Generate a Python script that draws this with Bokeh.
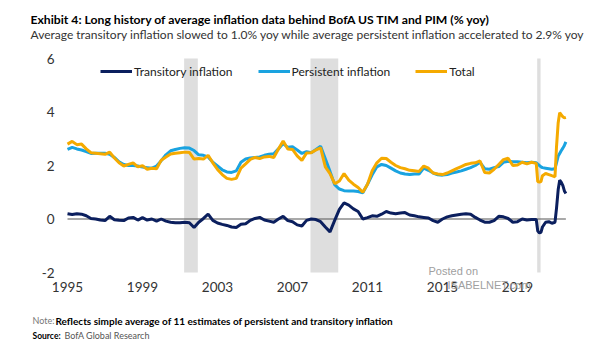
from bokeh.plotting import figure
from bokeh.models import Label, Legend, LegendItem, FixedTicker, ColumnDataSource
from bokeh.embed import file_html
from bokeh.resources import INLINE

# ---------------- data ----------------
years = [
    1995.00, 1995.25, 1995.50, 1995.75, 1996.00, 1996.25, 1996.50, 1996.75,
    1997.00, 1997.25, 1997.50, 1997.75, 1998.00, 1998.25, 1998.50, 1998.75,
    1999.00, 1999.25, 1999.50, 1999.75, 2000.00, 2000.25, 2000.50, 2000.75,
    2001.00, 2001.25, 2001.50, 2001.75, 2002.00, 2002.25, 2002.50, 2002.75,
    2003.00, 2003.25, 2003.50, 2003.75, 2004.00, 2004.25, 2004.50, 2004.75,
    2005.00, 2005.25, 2005.50, 2005.75, 2006.00, 2006.25, 2006.50, 2006.75,
    2007.00, 2007.25, 2007.50, 2007.75, 2008.00, 2008.25, 2008.50, 2008.75,
    2009.00, 2009.25, 2009.50, 2009.75, 2010.00, 2010.25, 2010.50, 2010.75,
    2011.00, 2011.25, 2011.50, 2011.75, 2012.00, 2012.25, 2012.50, 2012.75,
    2013.00, 2013.25, 2013.50, 2013.75, 2014.00, 2014.25, 2014.50, 2014.75,
    2015.00, 2015.25, 2015.50, 2015.75, 2016.00, 2016.25, 2016.50, 2016.75,
    2017.00, 2017.25, 2017.50, 2017.75, 2018.00, 2018.25, 2018.50, 2018.75,
    2019.00, 2019.25, 2019.50, 2019.75, 2020.00, 2020.08, 2020.17, 2020.25,
    2020.33, 2020.50, 2020.67, 2020.83, 2021.00, 2021.08, 2021.17, 2021.25,
    2021.33, 2021.42, 2021.50, 2021.58,
]

transitory = [
    0.20, 0.17, 0.20, 0.18, 0.12, 0.02, 0.00, -0.04,
    -0.06, 0.10, -0.03, -0.05, -0.06, 0.04, 0.06, -0.04,
    0.05, -0.04, 0.00, -0.08, 0.00, -0.08, -0.12, -0.14,
    -0.14, -0.12, -0.14, -0.32, -0.12, 0.02, 0.18, -0.05,
    -0.15, -0.20, -0.24, -0.30, -0.32, -0.20, -0.18, -0.05,
    0.02, 0.06, -0.04, -0.08, -0.12, 0.00, 0.10, -0.06,
    -0.10, -0.22, -0.26, -0.05, 0.00, -0.02, -0.10, -0.30,
    -0.48, -0.05, 0.36, 0.60, 0.52, 0.38, 0.28, 0.00,
    0.05, 0.12, 0.10, 0.18, 0.28, 0.22, 0.20, 0.22,
    0.24, 0.15, 0.12, 0.08, 0.06, 0.04, -0.06, -0.12,
    0.00, 0.08, 0.12, 0.15, 0.18, 0.20, 0.18, 0.06,
    -0.04, -0.12, -0.12, -0.06, 0.10, 0.08, 0.02, -0.12,
    -0.10, 0.00, -0.04, -0.02, -0.02, -0.45, -0.52, -0.50,
    -0.30, -0.12, -0.10, -0.16, -0.12, 0.40, 1.10, 1.45,
    1.38, 1.25, 1.05, 0.95,
]

persistent = [
    2.60, 2.68, 2.62, 2.58, 2.52, 2.45, 2.46, 2.46,
    2.46, 2.42, 2.30, 2.14, 2.04, 2.00, 2.00, 1.98,
    1.94, 1.92, 1.90, 1.98, 2.18, 2.40, 2.55, 2.60,
    2.64, 2.66, 2.65, 2.56, 2.40, 2.38, 2.32, 2.12,
    1.98, 1.84, 1.76, 1.74, 1.80, 2.12, 2.24, 2.28,
    2.30, 2.32, 2.38, 2.42, 2.44, 2.62, 2.82, 2.68,
    2.70, 2.58, 2.45, 2.52, 2.48, 2.60, 2.72, 2.25,
    1.78, 1.28, 1.12, 1.06, 1.05, 1.05, 1.03, 0.98,
    1.30, 1.65, 1.95, 2.04, 2.00, 1.90, 1.80, 1.72,
    1.68, 1.66, 1.68, 1.68, 1.90, 1.82, 1.72, 1.65,
    1.64, 1.66, 1.72, 1.76, 1.80, 1.86, 1.92, 2.00,
    2.12, 1.88, 1.86, 1.92, 1.96, 2.12, 2.16, 2.14,
    2.14, 2.12, 2.10, 2.12, 2.10, 2.05, 2.00, 1.95,
    1.92, 1.90, 1.88, 1.86, 1.88, 2.10, 2.35, 2.45,
    2.55, 2.65, 2.75, 2.88,
]

total = [
    2.80, 2.90, 2.78, 2.80, 2.62, 2.48, 2.46, 2.44,
    2.42, 2.50, 2.28, 2.10, 1.98, 2.04, 2.10, 1.95,
    1.99, 1.86, 1.90, 1.88, 2.20, 2.32, 2.43, 2.46,
    2.48, 2.50, 2.49, 2.24, 2.26, 2.24, 2.38, 2.10,
    1.85, 1.66, 1.52, 1.48, 1.52, 1.90, 2.06, 2.23,
    2.30, 2.26, 2.32, 2.34, 2.30, 2.62, 2.92, 2.62,
    2.60, 2.36, 2.19, 2.47, 2.48, 2.58, 2.66, 1.95,
    1.70, 1.32, 1.42, 1.70, 1.45, 1.30, 1.18, 1.00,
    1.30, 1.80, 2.10, 2.27, 2.26, 2.12, 2.00, 1.92,
    1.88, 1.82, 1.80, 1.78, 1.98, 1.90, 1.72, 1.68,
    1.66, 1.72, 1.80, 1.88, 1.96, 2.04, 2.08, 2.10,
    2.17, 1.74, 1.72, 1.86, 2.04, 2.22, 2.27, 2.00,
    2.02, 2.12, 2.06, 2.12, 2.08, 1.40, 1.38, 1.40,
    1.62, 1.70, 1.66, 1.62, 1.58, 2.70, 3.60, 3.97,
    3.90, 3.82, 3.78, 3.80,
]

recession_start = [2001.22, 2007.96, 2020.05]
recession_end = [2001.95, 2009.44, 2020.23]

x_ticks = [1995, 1999, 2003, 2007, 2011, 2015, 2019]
x_tick_labels = ["1995", "1999", "2003", "2007", "2011", "2015", "2019"]
y_ticks = [-2, 0, 2, 4, 6]
y_tick_labels = ["-2", "0", "2", "4", "6"]

series_names = ["Transitory inflation", "Persistent inflation", "Total"]

title_text = "Exhibit 4: Long history of average inflation data behind BofA US TIM and PIM (% yoy)"
subtitle_text = ("Average transitory inflation slowed to 1.0% yoy while average persistent "
                 "inflation accelerated to 2.9% yoy")
note_label = "Note:"
note_text = "Reflects simple average of 11 estimates of persistent and transitory inflation"
source_label = "Source:"
source_text = "BofA Global Research"
watermark_1 = "Posted on"
watermark_2 = "ISABELNET.com"

# ---------------- styling / layout ----------------
FONT = "Lato"
NAVY = "#0b1f5e"
BLUE = "#1aa3e0"
GOLD = "#f5aa00"
SHADE = "#dedede"

W, H = 605, 341
plot_left, plot_top, plot_bottom = 67, 58, 272     # pixel spots of 1995, y=6, y=-2
px_per_year = 18.75
px_per_unit = (plot_bottom - plot_top) / (y_ticks[-1] - y_ticks[0])
x0 = years[0] - plot_left / px_per_year
x1 = x0 + W / px_per_year
y0 = y_ticks[0] - (H - plot_bottom) / px_per_unit
y1 = y_ticks[-1] + plot_top / px_per_unit

p = figure(width=W, height=H, x_range=(x0, x1), y_range=(y0, y1),
           output_backend="svg", toolbar_location=None, title=None,
           min_border=0, min_border_left=0, min_border_right=0,
           min_border_top=0, min_border_bottom=0)
p.outline_line_color = None
p.grid.grid_line_color = None
p.background_fill_color = "white"
p.border_fill_color = "white"

# recession shading
p.quad(left=recession_start, right=recession_end,
       bottom=y_ticks[0], top=y_ticks[-1], fill_color=SHADE, line_color=None)

# zero line over the data span
p.line(x=[years[0], years[-1]], y=[0, 0], line_color="#555555", line_width=1.2)

src = ColumnDataSource(dict(x=years, t=transitory, p=persistent, tot=total))
r_t = p.line("x", "t", source=src, line_color=NAVY, line_width=3)
r_p = p.line("x", "p", source=src, line_color=BLUE, line_width=3)
r_tot = p.line("x", "tot", source=src, line_color=GOLD, line_width=3)

for ax in (p.xaxis[0], p.yaxis[0]):
    ax.axis_line_color = None
    ax.major_tick_line_color = None
    ax.minor_tick_line_color = None
    ax.major_tick_out = 0
    ax.major_tick_in = 0
    ax.minor_tick_out = 0
    ax.minor_tick_in = 0
    ax.major_label_text_font = FONT
    ax.major_label_text_font_size = "13.5px"
    ax.major_label_text_color = "#333333"

# tick labels sit inside the canvas-wide frame (negative standoff)
p.xaxis[0].ticker = FixedTicker(ticks=x_ticks)
p.xaxis[0].major_label_overrides = dict(zip(x_ticks, x_tick_labels))
p.xaxis[0].major_label_standoff = -(H - 281)
p.yaxis[0].ticker = FixedTicker(ticks=y_ticks)
p.yaxis[0].major_label_overrides = dict(zip(y_ticks, y_tick_labels))
p.yaxis[0].major_label_standoff = -54

legend = Legend(items=[LegendItem(label=series_names[0], renderers=[r_t]),
                       LegendItem(label=series_names[1], renderers=[r_p]),
                       LegendItem(label=series_names[2], renderers=[r_tot])],
                orientation="horizontal", location=(100, H - 61 - 20),
                glyph_width=32, glyph_height=20, label_standoff=2, spacing=25,
                padding=0, margin=0, label_text_font=FONT,
                label_text_font_size="12px", label_text_color="#222222",
                border_line_color=None, background_fill_alpha=0)
p.add_layout(legend)


def put(x, baseline, text, size, color="#000000", style="normal", font=FONT):
    # screen units: x from canvas left, y measured up from canvas bottom
    p.add_layout(Label(x=x, y=H - baseline, x_units="screen", y_units="screen",
                       text=text, text_font=font, text_font_size=size,
                       text_color=color, text_font_style=style,
                       text_baseline="alphabetic", text_align="left"))


put(30, 19, title_text, "12.2px", "#000000", "bold")
put(30, 34, subtitle_text, "12px", "#333333")
put(32, 320, note_label, "9px", "#777777")
put(55, 320, note_text, "10px", "#000000", "bold")
put(32, 335, source_label, "8.5px", "#000000", "bold")
put(64, 335, source_text, "9px", "#555555")
put(428, 270, watermark_1, "11px", "#a0a0a0", font="Liberation Sans")
put(447, 284, watermark_2, "11px", "#a0a0a0", font="Liberation Sans")

open("out.html", "w").write(file_html(p, INLINE))
